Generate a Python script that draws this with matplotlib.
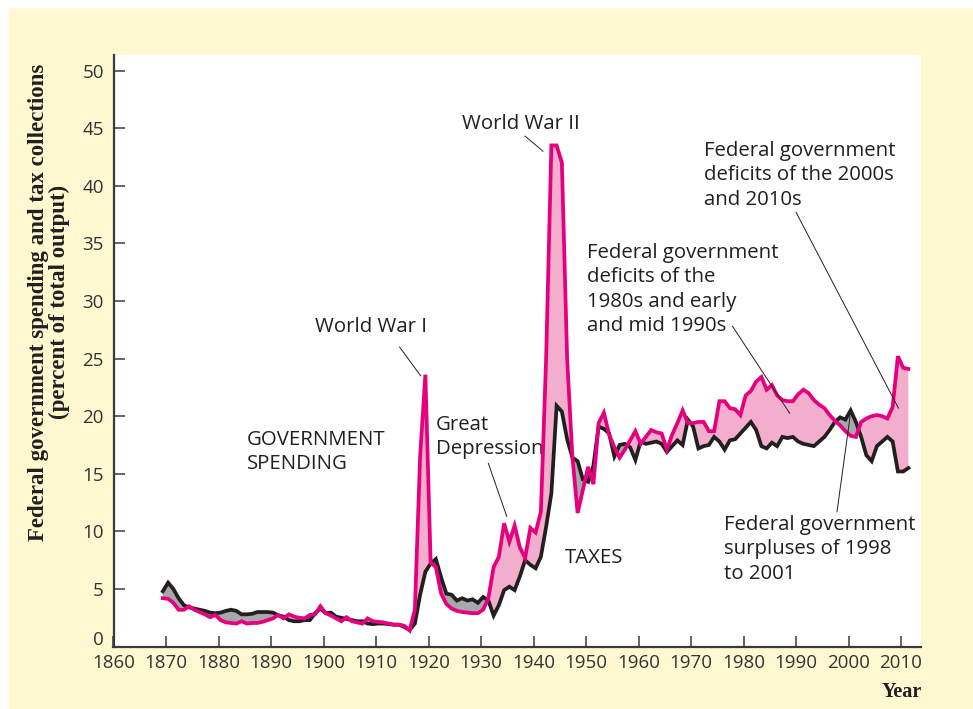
import numpy as np
import matplotlib
matplotlib.use("Agg")
from matplotlib import pyplot as plt
from matplotlib.patches import Rectangle
from matplotlib.transforms import ScaledTranslation

# federal spending and taxes, percent of total output, 1869-2011
years = np.arange(1869, 2012)

spending = [
    4.2, 4.15, 3.8, 3.2, 3.2, 3.5, 3.2, 3.0, 2.8, 2.55,            # 1869-1878
    2.75, 2.3, 2.1, 2.05, 2.0, 2.2, 2.0, 2.05, 2.05, 2.15,         # 1879-1888
    2.3, 2.45, 2.75, 2.45, 2.8, 2.6, 2.5, 2.45, 2.75, 2.8,         # 1889-1898
    3.5, 2.9, 2.7, 2.45, 2.2, 2.55, 2.2, 2.1, 2.0, 2.45,           # 1899-1908
    2.2, 2.15, 2.1, 2.0, 1.9, 1.9, 1.8, 1.4, 3.2, 16.5,            # 1909-1918
    23.6, 7.3, 6.9, 4.6, 3.7, 3.3, 3.1, 3.0, 2.95, 2.9,            # 1919-1928
    2.9, 3.2, 4.2, 6.9, 7.8, 10.7, 9.1, 10.5, 8.6, 7.7,            # 1929-1938
    10.3, 9.9, 11.7, 25.0, 43.5, 43.5, 42.0, 25.0, 16.5, 11.6,     # 1939-1948
    13.6, 15.6, 14.1, 19.4, 20.3, 18.4, 17.3, 16.4, 17.1, 17.9,    # 1949-1958
    18.7, 17.6, 18.2, 18.8, 18.6, 18.5, 17.1, 18.4, 19.4, 20.5,    # 1959-1968
    19.4, 19.4, 19.5, 19.5, 18.7, 18.7, 21.3, 21.3, 20.7, 20.6,    # 1969-1978
    20.1, 21.8, 22.2, 23.0, 23.4, 22.3, 22.7, 21.8, 21.4, 21.3,    # 1979-1988
    21.3, 21.9, 22.3, 22.0, 21.4, 21.0, 20.7, 20.1, 19.6, 19.2,    # 1989-1998
    18.7, 18.3, 18.2, 19.5, 19.8, 20.0, 20.1, 20.0, 19.8, 20.8,    # 1999-2008
    25.2, 24.2, 24.1,                                              # 2009-2011
]

taxes = [
    4.8, 5.55, 5.0, 4.2, 3.6, 3.4, 3.3, 3.2, 3.1, 2.95,            # 1869-1878
    2.9, 2.95, 3.1, 3.2, 3.1, 2.8, 2.8, 2.85, 3.0, 3.0,            # 1879-1888
    3.0, 2.95, 2.7, 2.6, 2.3, 2.2, 2.2, 2.3, 2.3, 2.9,             # 1889-1898
    3.3, 2.9, 2.95, 2.6, 2.5, 2.4, 2.3, 2.2, 2.2, 2.0,             # 1899-1908
    1.95, 2.0, 2.0, 1.95, 1.9, 1.9, 1.7, 1.45, 2.0, 4.5,           # 1909-1918
    6.5, 7.2, 7.6, 6.0, 4.6, 4.5, 4.0, 4.2, 4.0, 4.1,              # 1919-1928
    3.8, 4.3, 4.0, 2.7, 3.6, 4.9, 5.2, 4.9, 6.1, 7.5,              # 1929-1938
    7.1, 6.8, 7.8, 10.4, 13.3, 20.9, 20.4, 18.0, 16.4, 16.1,       # 1939-1948
    14.5, 14.3, 15.7, 19.1, 18.9, 18.5, 16.5, 17.5, 17.6, 17.3,    # 1949-1958
    16.2, 17.8, 17.6, 17.7, 17.8, 17.6, 16.9, 17.4, 17.9, 17.5,    # 1959-1968
    19.7, 19.1, 17.2, 17.4, 17.5, 18.2, 17.8, 17.1, 17.9, 18.0,    # 1969-1978
    18.5, 19.0, 19.5, 18.8, 17.4, 17.2, 17.7, 17.4, 18.2, 18.1,    # 1979-1988
    18.2, 17.8, 17.6, 17.5, 17.4, 17.8, 18.2, 18.8, 19.5, 19.9,    # 1989-1998
    19.7, 20.5, 19.5, 18.2, 16.6, 16.1, 17.4, 17.8, 18.2, 17.8,    # 1999-2008
    15.2, 15.2, 15.5,                                              # 2009-2011
]

xticks = np.arange(1860, 2011, 10)
yticks = np.arange(0, 51, 5)

PINK = "#E6007E"
PINK_FILL = "#F4AECD"
BLACK = "#231F20"
GRAY_FILL = "#A7A8AB"
CREAM = "#FFF8D0"
TXT = "#231F20"

plt.rcParams["font.family"] = ["Open Sans", "DejaVu Sans"]

fig = plt.figure(figsize=(9.73, 7.09), dpi=100)
fig.patches.append(Rectangle((9 / 973, 0), 1, (709 - 7.5) / 709,
                             transform=fig.transFigure, color=CREAM, zorder=-10))

ax = fig.add_axes([113.5 / 973, (709 - 646.6) / 709, (921 - 113.5) / 973, (646.6 - 55) / 709])
ax.set_facecolor("white")

x = years + 0.4  # fiscal years drawn mid-year
s = np.array(spending)
t = np.array(taxes)

ax.fill_between(x, t, s, where=s >= t, interpolate=True, color=PINK_FILL, lw=0, zorder=1)
ax.fill_between(x, t, s, where=t > s, interpolate=True, color=GRAY_FILL, lw=0, zorder=1)
ax.plot(x, t, color=BLACK, lw=2.7, solid_joinstyle="miter", zorder=3)
ax.plot(x, s, color=PINK, lw=2.7, solid_joinstyle="miter", zorder=4)

ax.set_xlim(1860, 2013.8)
ax.set_ylim(0, 51.35)
ax.set_xticks(xticks)
ax.set_yticks(yticks)
ax.tick_params(axis="both", direction="in", length=8, width=1.1, color="#3a3a3a",
               labelsize=13.5, labelcolor="#333333")
ax.tick_params(axis="x", pad=5)
ax.tick_params(axis="y", pad=7)
for side in ["top", "right"]:
    ax.spines[side].set_visible(False)
for side in ["left", "bottom"]:
    ax.spines[side].set_color("#3a3a3a")
    ax.spines[side].set_linewidth(1.6)

# lift the "0" label a little so it clears "1860"
zero_lbl = ax.get_yticklabels()[0]
zero_lbl.set_transform(zero_lbl.get_transform() + ScaledTranslation(0, 6 / 72, fig.dpi_scale_trans))

serif = ["Liberation Serif", "DejaVu Serif"]
fig.text(49 / 973, 1 - 302 / 709,
         "Federal government spending and tax collections\n(percent of total output)",
         rotation=90, ha="center", va="center", fontsize=16.5, fontweight="bold",
         family=serif, color=TXT, linespacing=1.0)
fig.text(922 / 973, 1 - 692 / 709, "Year", ha="right", va="center", fontsize=14.5,
         fontweight="bold", family=serif, color=TXT)

# annotations
kw = dict(fontsize=14.7, color=TXT, ha="left", va="center", linespacing=1.3)
ax.text(1898.4, 27.7, "World War I", **kw)
ax.text(1926.4, 45.4, "World War II", **kw)
ax.text(1972.5, 40.9, "Federal government\ndeficits of the 2000s\nand 2010s", **kw)
ax.text(1950.2, 31.0, "Federal government\ndeficits of the\n1980s and early\nand mid 1990s", **kw)
ax.text(1885.4, 16.9, "GOVERNMENT\nSPENDING", **kw)
ax.text(1921.4, 18.2, "Great\nDepression", **kw)
ax.text(1946.0, 7.7, "TAXES", **kw)
ax.text(1976.3, 8.45, "Federal government\nsurpluses of 1998\nto 2001", **kw)

leaders = [
    ((1914.5, 26.0), (1918.5, 23.5)),
    ((1938.4, 44.3), (1941.8, 43.0)),
    ((1931.4, 15.9), (1934.9, 11.3)),
    ((1977.9, 27.8), (1988.8, 20.25)),
    ((1990.0, 37.7), (2009.5, 20.7)),
    ((1997.8, 11.7), (2000.3, 20.0)),
]
for (x0, y0), (x1, y1) in leaders:
    ax.plot([x0, x1], [y0, y1], color=BLACK, lw=0.7, zorder=5)

fig.savefig("out.png", dpi=100)
